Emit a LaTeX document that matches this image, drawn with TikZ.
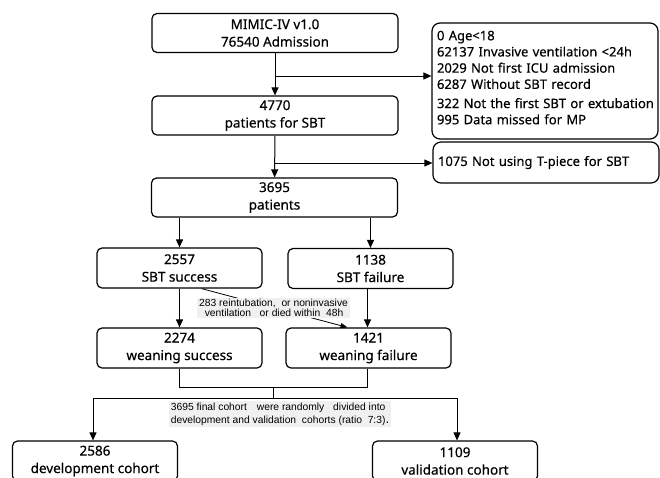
\documentclass[tikz,border=0pt]{standalone}
\usepackage{fontspec}
\setmainfont[FakeBold=0.4]{Noto Sans}
\newfontfamily\narrowfont{Liberation Sans}
\usetikzlibrary{arrows.meta}

\tikzset{
    stage/.style={draw, rounded corners=5pt, line width=1.2pt, minimum width=246pt, minimum height=39pt, inner sep=0pt, align=center, font=\fontsize{13.5}{17.5}\selectfont},
    branch/.style={stage, minimum width=165pt, minimum height=40pt},
    excluded/.style={draw, rounded corners=8pt, line width=1.2pt, text width=216pt, inner xsep=5pt, inner ysep=0pt, align=left, font=\fontsize{13}{16.2}\selectfont},
    graynote/.style={fill=black!6, inner xsep=2pt, inner ysep=1pt, align=left, font=\narrowfont\fontsize{10.3}{10.5}\selectfont},
    flow/.style={-{Triangle[length=8pt,width=7pt]}, line width=1pt},
    link/.style={line width=1pt}
}

\begin{document}
\begin{tikzpicture}[x=1pt, y=-1pt]
    \useasboundingbox (0,0) rectangle (660,477);

    \node[stage] (mimic) at (275,33) {MIMIC-IV v1.0\\76540 Admission};
    \node[stage] (sbt4770) at (275,115.5) {4770\\patients for SBT};
    \node[stage] (pat3695) at (274.5,197.5) {3695\\patients};
    \node[excluded, minimum height=116pt] (excl1) at (545,81) {\raisebox{2pt}[\height][\depth]{\begin{tabular}{@{}l@{}}0 Age<18\\62137 Invasive ventilation <24h\\2029 Not first ICU admission\\6287 Without SBT record\\[3pt]322 Not the first SBT or extubation\\995 Data missed for MP\end{tabular}}};
    \node[excluded, minimum height=41pt] (excl2) at (546,162.5) {1075 Not using T-piece for SBT};

    \node[branch] (sbtsucc) at (179.5,268) {2557\\SBT success};
    \node[branch] (sbtfail) at (370.5,268.5) {1138\\SBT failure};
    \node[branch] (wsucc) at (179.5,348) {2274\\weaning success};
    \node[branch] (wfail) at (368.5,348) {1421\\weaning failure};
    \node[branch] (dev) at (95,461) {2586\\development cohort};
    \node[branch] (valid) at (455,461) {1109\\validation cohort};

    % exclusions
    \coordinate (cut1) at (275,76);
    \coordinate (cut2) at (275,163);
    \draw[flow] (mimic) -- (sbt4770);
    \draw[flow] (cut1) -- (cut1 -| excl1.west);
    \draw[flow] (sbt4770) -- (pat3695);
    \draw[flow] (cut2) -- (cut2 -| excl2.west);

    % SBT outcome
    \draw[flow] (pat3695.south -| sbtsucc) -- (sbtsucc);
    \draw[flow] (pat3695.south -| sbtfail) -- (sbtfail);
    \draw[flow] (sbtsucc) -- (wsucc);
    \draw[flow] ([xshift=-3pt]sbtfail.south) -- ([xshift=-3pt]sbtfail.south |- wfail.north);
    \draw[-{Triangle[length=7pt,width=5pt]}, line width=.8pt] ([xshift=22pt]sbtsucc.south) -- ([xshift=-21pt]wfail.north);
    \node[graynote] (reintub) at (273.5,308) {283 reintubation,\ \ or noninvasive\\\ \ ventilation\ \ \ or died within\ \ 48h};

    % split into cohorts
    \coordinate (merge) at (273,387);
    \coordinate (split) at (273,398);
    \draw[link] (wsucc.south) -- (wsucc.south |- merge) -- ([xshift=-1pt]wfail.south |- merge) -- ([xshift=-1pt]wfail.south);
    \draw[link] (merge) -- (split);
    \draw[flow] (split) -| ([xshift=-2pt]dev.north);
    \draw[flow] (split) -| ([xshift=2pt]valid.north);
    \node[graynote, font=\narrowfont\fontsize{10.3}{13}\selectfont, inner ysep=1.5pt] (random) at (280,414) {3695 final cohort\hspace{7pt} were randomly\hspace{6pt} divided into\\development and validation\ \ cohorts (ratio\ \ 7:3){\fontsize{13}{13}\selectfont.}};
\end{tikzpicture}
\end{document}
